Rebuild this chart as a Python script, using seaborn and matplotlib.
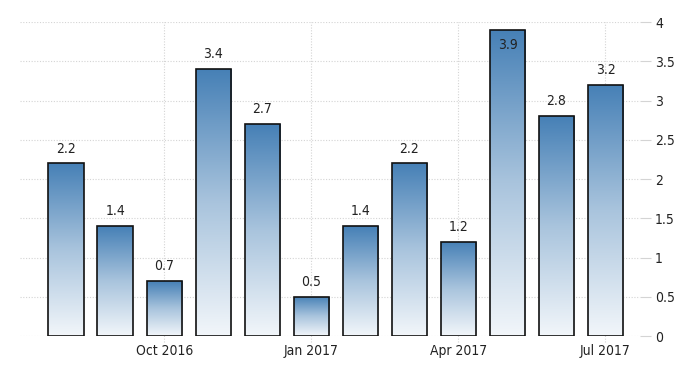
import numpy as np
import pandas as pd
import matplotlib
matplotlib.use('Agg')
import matplotlib.pyplot as plt
import seaborn as sns
from matplotlib.colors import LinearSegmentedColormap

# Datos
meses = ['Aug 2016', 'Sep 2016', 'Oct 2016', 'Nov 2016', 'Dec 2016', 'Jan 2017',
         'Feb 2017', 'Mar 2017', 'Apr 2017', 'May 2017', 'Jun 2017', 'Jul 2017']
valores = [2.2, 1.4, 0.7, 3.4, 2.7, 0.5, 1.4, 2.2, 1.2, 3.9, 2.8, 3.2]
etiquetas_x = ['Oct 2016', 'Jan 2017', 'Apr 2017', 'Jul 2017']
ticks_y = [0, 0.5, 1, 1.5, 2, 2.5, 3, 3.5, 4]

df = pd.DataFrame({'Mes': meses, 'Valor': valores})

sns.set_style('white')
plt.rcParams['font.family'] = ['DejaVu Sans']
plt.rcParams['font.stretch'] = 'condensed'

fig = plt.figure(figsize=(7, 3.75), dpi=100)
ax = fig.add_axes([0.029, 0.104, 0.885, 0.837])

sns.barplot(data=df, x='Mes', y='Valor', ax=ax, width=0.73,
            color='#4a83b8', edgecolor='#111111', linewidth=1.2, zorder=3)

ax.set_ylim(0, 4)
ax.set_xlim(-0.94, 11.7)

# Degradado azul -> blanco en cada barra
cmap = LinearSegmentedColormap.from_list('grad', ['#f2f6fa', '#a9c4dd', '#4680b6'])
grad = np.linspace(0, 1, 256).reshape(-1, 1)
for p in ax.patches:
    x0, y0 = p.get_x(), p.get_y()
    w, h = p.get_width(), p.get_height()
    im = ax.imshow(grad, cmap=cmap, origin='lower', aspect='auto',
                   extent=[x0, x0 + w, y0, y0 + h], zorder=2.5)
    im.set_clip_path(p)
    p.set_facecolor('none')

# Etiquetas de valores
for i, v in enumerate(valores):
    if v > 3.75:
        ax.text(i, v - 0.1, f'{v}', ha='center', va='top', fontsize=10, color='#222222', zorder=5)
    else:
        ax.text(i, v + 0.1, f'{v}', ha='center', va='bottom', fontsize=10, color='#222222', zorder=5)

# Rejilla punteada
for t in ticks_y:
    ax.axhline(t, color='#d4d4d4', linestyle=(0, (1, 1.5)), linewidth=0.8, zorder=1)
for lab in etiquetas_x:
    ax.axvline(meses.index(lab), ymin=-0.02, color='#d4d4d4', linestyle=(0, (1, 1.5)),
               linewidth=0.8, zorder=1, clip_on=False)

ax.set_xticks([meses.index(l) for l in etiquetas_x])
ax.set_xticklabels(etiquetas_x, fontsize=10, color='#222222')
ax.yaxis.tick_right()
ax.set_yticks(ticks_y)
ax.set_yticklabels([f'{t:g}' for t in ticks_y], fontsize=10, color='#222222')
ax.tick_params(axis='y', length=8, color='#d4d4d4', pad=3, width=0.8)
ax.tick_params(axis='x', length=0, pad=6)
ax.set_xlabel('')
ax.set_ylabel('')
for s in ax.spines.values():
    s.set_visible(False)

fig.savefig('out.png', dpi=100)
